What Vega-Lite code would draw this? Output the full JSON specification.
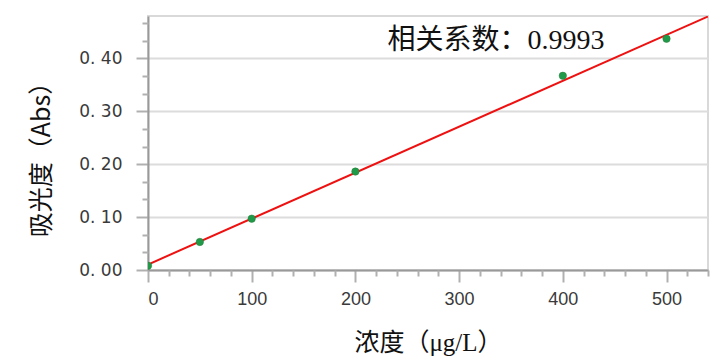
{
  "$schema": "https://vega.github.io/schema/vega-lite/v6.json",
  "autosize": "none",
  "width": 560,
  "height": 254,
  "padding": {"left": 148, "top": 16, "right": 13, "bottom": 93},
  "background": "white",
  "config": {
    "view": {"stroke": "#d9d9d9", "strokeWidth": 2},
    "font": "Noto Sans CJK SC"
  },
  "datasets": {
    "points": [
      {"conc": 0, "abs": 0.008},
      {"conc": 50, "abs": 0.053},
      {"conc": 100, "abs": 0.097},
      {"conc": 200, "abs": 0.186},
      {"conc": 400, "abs": 0.367},
      {"conc": 500, "abs": 0.437}
    ],
    "fit": [
      {"conc": 0, "abs": 0.0104},
      {"conc": 540, "abs": 0.479}
    ],
    "note": [
      {"conc": 231, "abs": 0.432, "label": "相关系数：0.9993"}
    ]
  },
  "layer": [
    {
      "data": {"name": "fit"},
      "mark": {"type": "line", "color": "#ee1111", "strokeWidth": 2, "clip": true},
      "encoding": {
        "x": {
          "field": "conc", "type": "quantitative",
          "scale": {"domain": [0, 540], "nice": false, "zero": false},
          "axis": {
            "orient": "bottom",
            "values": [0, 100, 200, 300, 400, 500],
            "grid": false,
            "domainColor": "#999999", "domainWidth": 2,
            "tickColor": "#b0b0b0", "tickWidth": 2, "tickSize": 12,
            "labelFont": "Liberation Sans", "labelFontSize": 18, "labelColor": "#3a3a3a",
            "labelPadding": 8,
            "title": "浓度（μg/L）",
            "titleFont": "Liberation Serif, Noto Sans CJK SC",
            "titleFontSize": 25, "titleFontWeight": "normal", "titleColor": "#111111",
            "titlePadding": 22,
            "titleX": 280
          }
        },
        "y": {
          "field": "abs", "type": "quantitative",
          "scale": {"domain": [0, 0.48], "nice": false},
          "axis": {
            "orient": "left",
            "values": [0, 0.1, 0.2, 0.3, 0.4],
            "labelExpr": "replace(format(datum.value, '.2f'), '.', '. ')",
            "grid": true, "gridColor": "#dcdcdc", "gridWidth": 2,
            "domainColor": "#999999", "domainWidth": 2,
            "tickColor": "#b0b0b0", "tickWidth": 2, "tickSize": 12,
            "labelFont": "DejaVu Sans", "labelFontSize": 17, "labelColor": "#3a3a3a",
            "labelPadding": 14,
            "title": "吸光度（Abs）",
            "titleFont": "Noto Sans CJK SC",
            "titleFontSize": 25, "titleFontWeight": "normal", "titleColor": "#111111",
            "titlePadding": 24,
            "titleY": 137
          }
        }
      }
    },
    {
      "data": {"name": "points"},
      "mark": {"type": "point", "filled": true, "color": "#1f9a48", "size": 55, "opacity": 1, "stroke": "#2a7a3a", "strokeWidth": 0.5, "clip": true},
      "encoding": {
        "x": {
          "field": "conc", "type": "quantitative",
          "axis": {
            "orient": "bottom",
            "values": [20, 40, 60, 80, 120, 140, 160, 180, 220, 240, 260, 280, 320, 340, 360, 380, 420, 440, 460, 480, 520, 540],
            "labels": false, "grid": false, "domain": false,
            "tickColor": "#b0b0b0", "tickWidth": 2, "tickSize": 6,
            "title": null
          }
        },
        "y": {
          "field": "abs", "type": "quantitative",
          "axis": {
            "orient": "left",
            "values": [0.0333, 0.0667, 0.1333, 0.1667, 0.2333, 0.2667, 0.3333, 0.3667, 0.4333, 0.4667],
            "labels": false, "grid": false, "domain": false,
            "tickColor": "#b0b0b0", "tickWidth": 2, "tickSize": 6,
            "title": null
          }
        }
      }
    },
    {
      "data": {"name": "note"},
      "mark": {"type": "text", "align": "left", "baseline": "middle", "font": "Liberation Serif, Noto Sans CJK SC", "fontSize": 28, "color": "#111111"},
      "encoding": {
        "x": {"field": "conc", "type": "quantitative", "axis": null},
        "y": {"field": "abs", "type": "quantitative", "axis": null},
        "text": {"field": "label"}
      }
    }
  ],
  "resolve": {"axis": {"x": "independent", "y": "independent"}}
}
